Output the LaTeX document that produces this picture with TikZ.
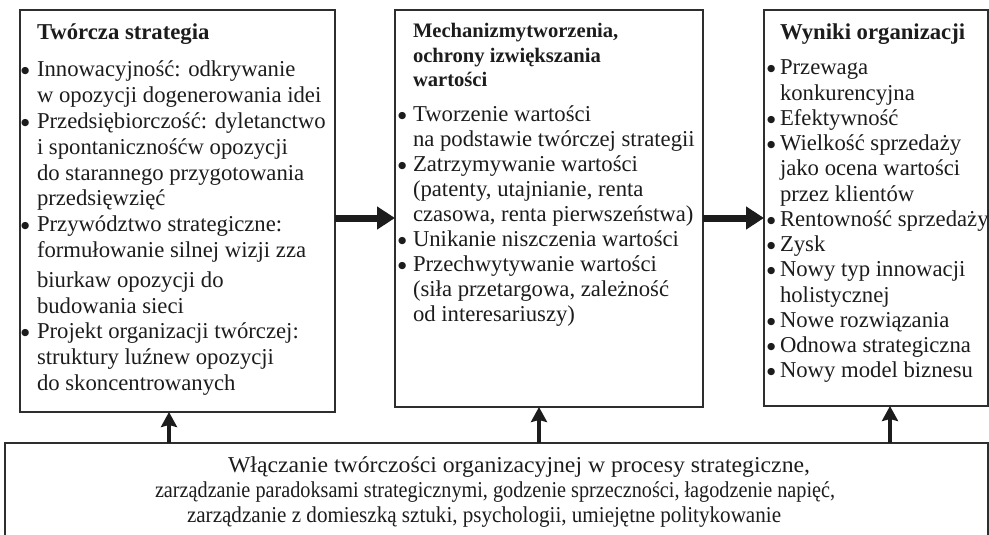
\documentclass[tikz,border=0pt]{standalone}
\usepackage{fontspec}
\usepackage{graphicx}
\setmainfont{Liberation Serif}
\newfontfamily\dejavu{DejaVu Sans}
\usetikzlibrary{arrows.meta}
\definecolor{ink}{HTML}{1C1C1C}
\definecolor{frame}{HTML}{2E2E2E}
\newlength\bulw
\newcommand\bodyfont{\fontsize{22.7}{25.3}\selectfont}
\newcommand\bul{\makebox[\bulw][l]{\raisebox{3.2pt}{\fontsize{9.5}{9.5}\dejavu ●}}}
\newcommand\itm[1]{\hbox{\bul #1}}
\newcommand\cnt[1]{\hbox{\hspace{\bulw}#1}}
\newcommand\ttl[1]{\hbox{\hspace{\bulw}\bfseries #1}}
\newcommand\bline[3]{\hbox{\hspace{#1}\resizebox{#2}{\height}{#3}}}
\tikzset{
  panel/.style={draw=frame, line width=1.2pt, outer sep=0pt, inner sep=0pt, anchor=north west},
  lines/.style={anchor=base west, inner sep=0pt, outer sep=0pt, text=ink},
  harrow/.style={draw=ink, line width=7pt, -{Triangle[length=18pt,width=22pt]}},
  varrow/.style={draw=ink, line width=4.5pt, -{Stealth[length=15pt,width=16pt,inset=2pt]}},
}
\begin{document}
\begin{tikzpicture}[x=1pt,y=-1pt]
\useasboundingbox (0,0) rectangle (989,535);
% boxes
\node[panel, minimum width=315pt, minimum height=402pt] (L) at (20,10) {};
\node[panel, minimum width=308pt, minimum height=397pt] (M) at (395,10) {};
\node[panel, minimum width=224pt, minimum height=396pt] (R) at (764,10) {};
\node[outer sep=0pt, inner sep=0pt, minimum width=983pt, minimum height=92pt, anchor=north west] (B) at (5,443) {};
\draw[frame, line width=1.2pt] (B.south west) -- (B.north west) -- (B.north east) -- (B.south east);

% left text
\node[lines] (Lt) at (21,40) {\setlength\bulw{16pt}\vtop{\bodyfont\baselineskip=25.8pt
\ttl{Twórcza strategia}\vskip 11.2pt
\itm{Innowacyjność: odkrywanie}
\cnt{w opozycji dogenerowania idei}
\itm{Przedsiębiorczość: dyletanctwo}
\cnt{i spontanicznośćw opozycji}
\cnt{do starannego przygotowania}
\cnt{przedsięwzięć}
\itm{Przywództwo strategiczne:}
\cnt{formułowanie silnej wizji zza}\vskip 4pt
\cnt{biurkaw opozycji do}
\cnt{budowania sieci}
\itm{Projekt organizacji twórczej:}
\cnt{struktury luźnew opozycji}
\cnt{do skoncentrowanych}}};

% middle text
\node[lines] (Mt) at (398,38) {\setlength\bulw{15pt}\vtop{\bodyfont\baselineskip=24.5pt
\ttl{\fontsize{20.6}{24.5}\selectfont Mechanizmytworzenia,}
\ttl{\fontsize{20.6}{24.5}\selectfont ochrony izwiększania}
\ttl{\fontsize{20.6}{24.5}\selectfont wartości}\baselineskip=24.9pt\vskip 10.1pt
\itm{Tworzenie wartości}
\cnt{na podstawie twórczej strategii}
\itm{Zatrzymywanie wartości}
\cnt{(patenty, utajnianie, renta}
\cnt{czasowa, renta pierwszeństwa)}
\itm{Unikanie niszczenia wartości}
\itm{Przechwytywanie wartości}
\cnt{(siła przetargowa, zależność}
\cnt{od interesariuszy)}}};

% right text
\node[lines] (Rt) at (767,40) {\setlength\bulw{13pt}\vtop{\bodyfont\baselineskip=25.25pt
\ttl{Wyniki organizacji}\vskip 9.75pt
\itm{Przewaga}
\cnt{konkurencyjna}
\itm{Efektywność}
\itm{Wielkość sprzedaży}
\cnt{jako ocena wartości}
\cnt{przez klientów}
\itm{Rentowność sprzedaży}
\itm{Zysk}
\itm{Nowy typ innowacji}
\cnt{holistycznej}
\itm{Nowe rozwiązania}
\itm{Odnowa strategiczna}
\itm{Nowy model biznesu}}};

% bottom text
\node[lines] (Bt) at (155,472) {\vtop{\bodyfont\baselineskip=25pt
\bline{73pt}{582pt}{Włączanie twórczości organizacyjnej w procesy strategiczne,}
\bline{0pt}{680pt}{zarządzanie paradoksami strategicznymi, godzenie sprzeczności, łagodzenie napięć,}
\bline{32pt}{594pt}{zarządzanie z domieszką sztuki, psychologii, umiejętne politykowanie}}};

% connector positions
\coordinate (hrow) at (0,218);
\coordinate (c1) at (169,0);
\coordinate (c2) at (539,0);
\coordinate (c3) at (890,0);

\draw[harrow] (L.east |- hrow) -- (M.west |- hrow);
\draw[harrow] (M.east |- hrow) -- (R.west |- hrow);
\draw[varrow] (B.north -| c1) -- (L.south -| c1);
\draw[varrow] (B.north -| c2) -- (M.south -| c2);
\draw[varrow] (B.north -| c3) -- (R.south -| c3);
\end{tikzpicture}
\end{document}
